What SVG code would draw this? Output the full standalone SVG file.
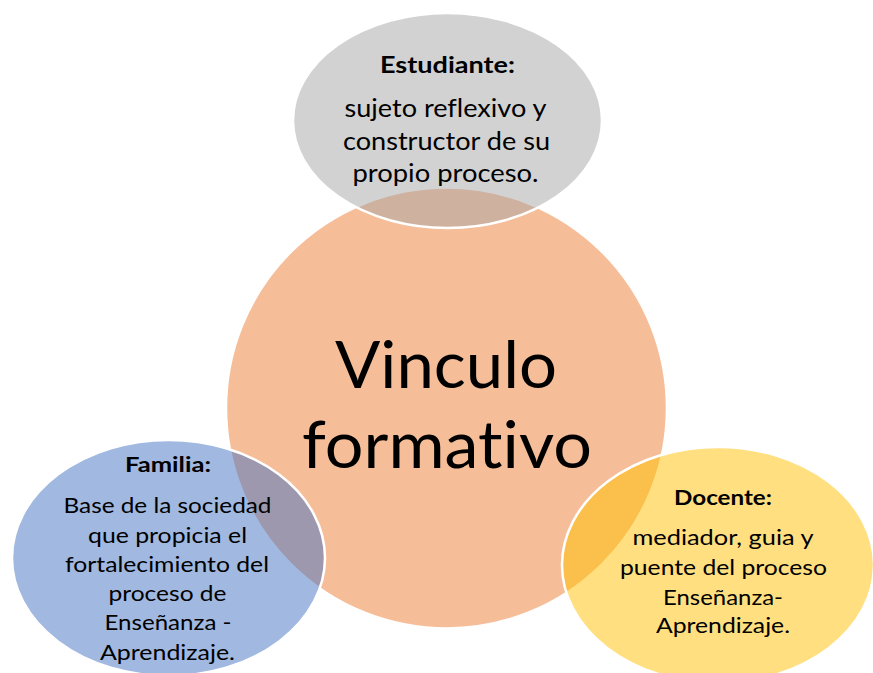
<svg xmlns="http://www.w3.org/2000/svg" width="873" height="673" viewBox="0 0 873 673">
<style>
.shape{stroke:#FFFFFF;stroke-width:2.5;fill-opacity:0.5}
.t{font-family:Lato,"Open Sans","Liberation Sans",sans-serif;fill:#000000;text-anchor:middle;font-variant-ligatures:none;font-feature-settings:"liga" 0,"clig" 0}
.h{font-weight:bold}
</style>
<rect width="873" height="673" fill="#FFFFFF"/>
<g id="connectors"></g>
<g id="center">
<circle class="shape" cx="446.5" cy="408" r="220.5" fill="#ED7D31"/>
<text class="t" x="446" y="388" font-size="65" textLength="222" lengthAdjust="spacingAndGlyphs">Vinculo</text>
<text class="t" x="447" y="468" font-size="65" textLength="290" lengthAdjust="spacingAndGlyphs">formativo</text>
</g>
<g id="estudiante">
<ellipse class="shape" cx="447.5" cy="120.5" rx="154.5" ry="107.5" fill="#A5A5A5"/>
<text class="t h" x="447.5" y="73" font-size="23" textLength="135" lengthAdjust="spacingAndGlyphs">Estudiante:</text>
<text class="t" x="445.5" y="117" font-size="25" textLength="202" lengthAdjust="spacingAndGlyphs">sujeto reflexivo y</text>
<text class="t" x="446.5" y="150" font-size="25" textLength="207" lengthAdjust="spacingAndGlyphs">constructor de su</text>
<text class="t" x="445.5" y="182" font-size="25" textLength="186" lengthAdjust="spacingAndGlyphs">propio proceso.</text>
</g>
<g id="familia">
<ellipse class="shape" cx="168.5" cy="558" rx="156.5" ry="118" fill="#4472C4"/>
<text class="t h" x="168" y="472" font-size="21" textLength="86" lengthAdjust="spacingAndGlyphs">Familia:</text>
<text class="t" x="167.5" y="513" font-size="22" textLength="208" lengthAdjust="spacingAndGlyphs">Base de la sociedad</text>
<text class="t" x="167.5" y="543" font-size="22" textLength="159" lengthAdjust="spacingAndGlyphs">que propicia el</text>
<text class="t" x="167" y="572" font-size="22" textLength="204" lengthAdjust="spacingAndGlyphs">fortalecimiento del</text>
<text class="t" x="167.5" y="601" font-size="22" textLength="118" lengthAdjust="spacingAndGlyphs">proceso de</text>
<text class="t" x="168" y="630" font-size="22" textLength="127" lengthAdjust="spacingAndGlyphs">Enseñanza -</text>
<text class="t" x="167.5" y="660" font-size="22" textLength="135" lengthAdjust="spacingAndGlyphs">Aprendizaje.</text>
</g>
<g id="docente">
<ellipse class="shape" cx="718" cy="565" rx="156" ry="118" fill="#FFC000"/>
<text class="t h" x="723" y="505" font-size="21" textLength="98" lengthAdjust="spacingAndGlyphs">Docente:</text>
<text class="t" x="723" y="545" font-size="22" textLength="181" lengthAdjust="spacingAndGlyphs">mediador, guia y</text>
<text class="t" x="723.5" y="575" font-size="22" textLength="207" lengthAdjust="spacingAndGlyphs">puente del proceso</text>
<text class="t" x="723" y="605" font-size="22" textLength="120" lengthAdjust="spacingAndGlyphs">Enseñanza-</text>
<text class="t" x="723" y="633" font-size="22" textLength="134" lengthAdjust="spacingAndGlyphs">Aprendizaje.</text>
</g>
</svg>
